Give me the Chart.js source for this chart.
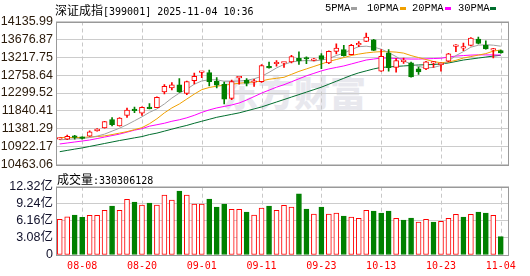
<!DOCTYPE html>
<html><head><meta charset="utf-8">
<script src="https://cdn.jsdelivr.net/npm/chart.js@4.4.1/dist/chart.umd.min.js"></script>
<style>
html,body{margin:0;padding:0;background:#fff;width:530px;height:276px;overflow:hidden;}
#wrap{position:relative;width:530px;height:276px;}
.t{position:absolute;white-space:pre;line-height:1;color:#000;}
.cjk{font-family:"Noto Sans CJK SC";font-size:12px;}
.asc{font-family:"DejaVu Sans Mono";font-size:10px;}
.lg{font-family:"Liberation Mono";font-size:10.5px;}
.sw{position:absolute;width:6px;height:3px;}
canvas{position:absolute;left:0;}
</style></head>
<body><div id="wrap">
<div class="t" style="left:222px;top:73px;font-family:'Noto Sans CJK SC';font-weight:900;font-size:36px;color:#e8e8ee;">东方财富</div>
<canvas id="c1" width="530" height="175" style="top:0;width:530px;height:175px"></canvas>
<canvas id="c2" width="530" height="101" style="top:175px;width:530px;height:101px"></canvas>
<div class="t" style="left:55px;top:2px"><span class="cjk">深证成指</span><span class="asc">[399001] 2025-11-04 10:36</span></div>
<div class="t lg" style="left:325px;top:3px">5PMA</div><div class="sw" style="left:351px;top:7px;background:#a0a0a0"></div>
<div class="t lg" style="left:367px;top:3px">10PMA</div><div class="sw" style="left:400px;top:7px;background:#f0a000"></div>
<div class="t lg" style="left:412px;top:3px">20PMA</div><div class="sw" style="left:445px;top:7px;background:#ff00ff"></div>
<div class="t lg" style="left:458px;top:3px">30PMA</div><div class="sw" style="left:490px;top:7px;background:#006e2e"></div>
<div class="t" style="left:57px;top:171px"><span class="cjk">成交量</span><span class="asc">:330306128</span></div>
</div>
<script>
const dates = ['08-05','08-06','08-07','08-08','08-11','08-12','08-13','08-14','08-15','08-18','08-19','08-20','08-21','08-22','08-25','08-26','08-27','08-28','08-29','09-01','09-02','09-03','09-04','09-05','09-08','09-09','09-10','09-11','09-12','09-15','09-16','09-17','09-18','09-19','09-22','09-23','09-24','09-25','09-26','09-29','09-30','10-09','10-10','10-13','10-14','10-15','10-16','10-17','10-20','10-21','10-22','10-23','10-24','10-27','10-28','10-29','10-30','10-31','11-03','11-04'];
const opens = [11115,11112,11168,11150,11188,11325,11401,11619,11452,11721,11855,11782,11941,11924,12330,12431,12507,12289,12619,12830,12822,12601,12525,12162,12690,12626,12575,12593,12952,13050,13065,13101,13192,13180,13134,13261,13075,13370,13413,13286,13535,13623,13667,12862,13329,12956,13105,13075,12918,12918,13067,13027,13116,13498,13452,13522,13687,13522,13400,13387];
const highs = [11140,11218,11213,11175,11325,11385,11575,11670,11665,11909,11941,11945,12025,12200,12517,12568,12670,12605,12812,12845,12888,12695,12583,12634,12703,12670,12652,13030,13091,13135,13078,13268,13355,13228,13190,13311,13380,13565,13522,13552,13623,13837,13680,13413,13413,13185,13197,13091,12964,13116,13116,13075,13320,13540,13583,13720,13735,13641,13445,13400];
const lows = [11105,11104,11112,11112,11185,11318,11395,11452,11445,11670,11797,11721,11890,11920,12279,12380,12315,12254,12533,12695,12482,12431,12018,12127,12525,12482,12467,12570,12940,12990,12955,13075,13032,13050,13125,12923,13050,13304,13243,13275,13489,13615,13387,12855,12862,12837,13058,12703,12779,12898,12956,12862,13100,13362,13388,13510,13558,13425,13202,13320];
const closes = [11125,11188,11160,11135,11300,11376,11568,11485,11655,11858,11847,11934,11898,12188,12474,12507,12330,12593,12728,12838,12593,12500,12144,12593,12698,12543,12583,13007,12945,13058,13072,13235,13126,13172,13177,13159,13370,13456,13261,13527,13540,13735,13395,13243,12949,13134,13110,12715,12842,13101,13073,13032,13304,13505,13458,13710,13570,13431,13440,13329];
const ma5 = [11096.7,11109.4,11122.1,11129.6,11155.0,11193.0,11243.8,11319.9,11396.0,11484.8,11586.3,11687.8,11801.9,11890.7,12017.6,12169.8,12296.6,12398.2,12524.9,12608.7,12639.0,12639.0,12601.1,12601.1,12608.7,12626.5,12664.5,12728.0,12829.4,12943.6,13032.4,13095.9,13121.2,13133.9,13121.2,13146.6,13184.6,13260.7,13324.2,13412.9,13489.1,13501.8,13476.4,13425.7,13336.9,13235.4,13121.2,13045.1,12981.7,12943.6,12956.3,13007.0,13121.2,13260.7,13362.2,13476.4,13527.2,13539.8,13527.2,13501.8];
const ma10 = [11155.0,11155.0,11155.0,11160.1,11167.7,11180.4,11198.2,11231.2,11269.2,11307.2,11358.0,11408.7,11510.2,11637.0,11789.3,11916.1,12017.6,12144.5,12271.3,12385.5,12441.3,12474.3,12499.6,12525.0,12550.4,12568.1,12583.4,12608.7,12651.9,12677.2,12702.6,12778.7,12854.8,12918.3,12981.7,13045.1,13108.5,13159.3,13210.0,13260.7,13298.7,13329.2,13349.5,13362.2,13362.2,13349.5,13324.2,13260.7,13210.0,13159.3,13108.5,13075.5,13095.9,13139.0,13197.4,13235.4,13273.4,13311.5,13374.9,13405.4];
const ma20 = [10990.1,11015.5,11040.9,11066.2,11091.6,11129.6,11167.6,11205.8,11243.8,11294.6,11345.3,11383.4,11446.9,11484.8,11522.9,11573.7,11611.7,11662.4,11725.9,11802.0,11865.4,11916.1,11954.1,11992.2,12042.9,12119.1,12207.9,12296.6,12372.8,12448.9,12512.3,12588.4,12664.6,12740.8,12804.1,12867.6,12918.3,12956.3,12994.4,13045.1,13095.8,13146.6,13172.0,13197.4,13197.4,13184.6,13177.0,13172.0,13172.0,13177.0,13184.6,13192.3,13222.6,13248.0,13260.7,13273.4,13278.5,13278.5,13278.5,13273.4];
const ma30 = [10792.2,10825.2,10858.2,10888.7,10926.7,10964.7,11002.8,11040.9,11078.9,11111.9,11147.4,11180.4,11231.2,11269.2,11320.0,11370.7,11421.4,11467.1,11522.9,11573.6,11624.4,11675.1,11713.2,11751.2,11789.3,11840.0,11890.7,11941.5,12004.9,12068.3,12131.6,12195.2,12258.6,12322.0,12385.5,12448.9,12525.0,12601.1,12677.3,12753.3,12816.8,12867.5,12918.3,12956.3,12969.0,12981.7,12994.4,13007.0,13019.7,13024.8,13032.4,13045.1,13070.5,13108.5,13146.6,13172.0,13197.4,13222.6,13248.0,13268.3];
const volumes = [6.43,6.90,7.20,6.79,7.15,7.15,8.05,8.83,8.05,10.03,9.55,9.00,9.37,9.00,10.80,9.90,11.53,10.80,9.19,9.19,10.09,8.65,9.19,8.23,8.23,7.75,7.20,8.47,8.83,8.05,8.95,8.65,11.04,8.29,7.38,8.65,7.38,7.57,7.02,6.82,6.63,8.05,7.93,7.57,7.93,6.61,6.30,6.66,5.94,6.43,5.94,6.07,6.61,7.33,6.85,7.33,7.75,7.57,7.15,3.303];
const volUp = [1,1,0,0,1,1,1,0,1,1,0,1,0,1,1,1,0,1,1,1,0,0,0,1,1,0,1,1,0,1,1,1,0,0,1,0,1,1,0,1,1,1,0,0,0,1,0,0,1,1,0,1,1,1,0,1,0,0,1,0];
const priceTicks = [10463.06,10922.17,11381.29,11840.41,12299.52,12758.64,13217.75,13676.87,14135.99];
const volTicks = [0,3.08,6.16,9.24,12.32];
const xTickLabels = ['08-08','08-20','09-01','09-11','09-23','10-13','10-23','11-04'];

const RED='#ff0000', GREEN='#008000';
const labelIdx = xTickLabels.map(l=>dates.indexOf(l));
const up = closes.map((c,i)=>c>=opens[i]);
const candleCol = up.map(u=>u?RED:GREEN);

const frame = {id:'frame', afterDraw(c){const a=c.chartArea, ctx=c.ctx; ctx.save(); ctx.setLineDash([]); ctx.strokeStyle='#999999'; ctx.lineWidth=1;
  ctx.strokeRect(Math.round(a.left)+0.5, Math.round(a.top)+0.5, Math.round(a.right)-Math.round(a.left)-1, Math.round(a.bottom)-Math.round(a.top)); ctx.restore();}};

const vgrid = {id:'vgrid', beforeDatasetsDraw(c){const a=c.chartArea, ctx=c.ctx, sx=c.scales.x; ctx.save(); ctx.strokeStyle='#c8c8c8'; ctx.lineWidth=1; ctx.setLineDash([4,3]);
  labelIdx.forEach(v=>{const px=Math.round(sx.getPixelForValue(v))+0.5; ctx.beginPath(); ctx.moveTo(px,a.top); ctx.lineTo(px,a.bottom); ctx.stroke();});
  ctx.restore();}};

const xCommon = {type:'linear', min:-0.5, max:60.1, offset:false, bounds:'data',
  afterBuildTicks:s=>{s.ticks=labelIdx.map(v=>({value:v}));},
  grid:{display:false, drawTicks:false, offset:false}, border:{display:false}};

function lineDs(arr,col,order){return {type:'line', data:arr.map((v,i)=>({x:i,y:v})), borderColor:col, borderWidth:1, pointRadius:0, tension:0, order:order};}

new Chart(document.getElementById('c1'), {
  type:'bar',
  data:{datasets:[
    lineDs(ma30,'#006e2e',6), lineDs(ma20,'#ff00ff',5), lineDs(ma10,'#f0a000',4), lineDs(ma5,'#a0a0a0',3),
    {data:dates.map((d,i)=>({x:i,y:[lows[i],highs[i]]})), backgroundColor:candleCol, barThickness:1, grouped:false, order:2},
    {data:dates.map((d,i)=>({x:i,y:[opens[i],closes[i]]})), backgroundColor:up.map(u=>u?'#ffffff':GREEN), borderColor:candleCol, borderWidth:1, borderSkipped:false, barThickness:5, minBarLength:1.5, grouped:false, order:1}
  ]},
  options:{responsive:false, animation:false, devicePixelRatio:1,
    plugins:{legend:{display:false}, tooltip:{enabled:false}},
    layout:{padding:{left:0,right:21,top:21.5,bottom:8.5}},
    scales:{
      x:Object.assign({}, xCommon, {ticks:{display:false}, afterFit:s=>{s.height=0;}}),
      y:{min:priceTicks[0], max:priceTicks[priceTicks.length-1],
        afterBuildTicks:s=>{s.ticks=priceTicks.map(v=>({value:v}));},
        ticks:{autoSkip:false, callback:v=>v.toFixed(2), font:{family:'Liberation Sans', size:12.5}, color:'#2a1a0a', padding:3},
        grid:{display:true, color:'#cccccc', lineWidth:1, drawTicks:false}, border:{display:false}, afterFit:s=>{s.width=56;}}
    }},
  plugins:[vgrid, frame]
});

new Chart(document.getElementById('c2'), {
  type:'bar',
  data:{datasets:[
    {data:volumes.map((v,i)=>({x:i,y:v})), backgroundColor:volUp.map(u=>u?'#ffffff':GREEN), borderColor:volUp.map(u=>u?RED:GREEN), borderWidth:1, borderSkipped:false, barThickness:5, grouped:false}
  ]},
  options:{responsive:false, animation:false, devicePixelRatio:1,
    plugins:{legend:{display:false}, tooltip:{enabled:false}},
    layout:{padding:{left:0,right:21,top:11.7,bottom:0}},
    scales:{
      x:Object.assign({}, xCommon, {ticks:{display:true, autoSkip:false, maxRotation:0, callback:v=>dates[v], font:{family:'DejaVu Sans Mono', size:10}, color:RED, padding:5}, afterFit:s=>{s.height=21;}}),
      y:{min:volTicks[0], max:volTicks[volTicks.length-1],
        afterBuildTicks:s=>{s.ticks=volTicks.map(v=>({value:v}));},
        ticks:{autoSkip:false, callback:v=>v===0?'0':v.toFixed(2)+'亿', font:{family:"'Liberation Sans','Noto Sans CJK SC'", size:12.5}, color:'#10102a', padding:3},
        grid:{display:true, color:'#cccccc', lineWidth:1, drawTicks:false}, border:{display:false}, afterFit:s=>{s.width=56;}}
    }},
  plugins:[vgrid, frame]
});
</script>
</body></html>
